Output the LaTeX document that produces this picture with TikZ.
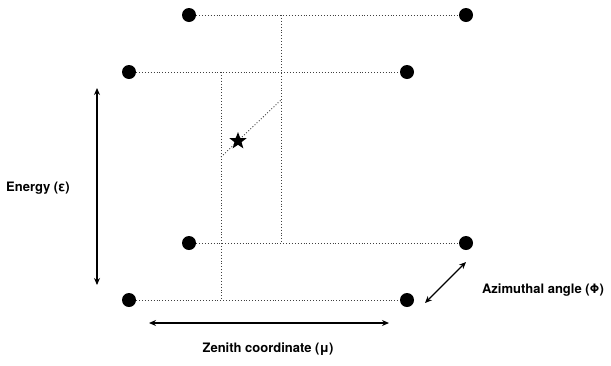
\documentclass[tikz,border=0pt]{standalone}
\usepackage{fontspec}
\setmainfont{TeX Gyre Heros}
\usetikzlibrary{arrows.meta, positioning, shapes.geometric}

\tikzset{
  gridpt/.style={circle,fill=black,inner sep=0pt,minimum size=14pt},
  gridline/.style={dotted,black!75,line width=0.9pt},
  axisarrow/.style={{Stealth[length=7pt,width=6pt]}-{Stealth[length=7pt,width=6pt]},line width=1.2pt},
  axislabel/.style={font=\bfseries\fontsize{13}{15}\selectfont}
}

\begin{document}
\begin{tikzpicture}[x=1pt,y=-1pt]
\useasboundingbox (0,0) rectangle (611,365);

% Corners of the bin: back layer and front layer.
\node[gridpt] (tbl) at (189,15) {};
\node[gridpt] (tbr) at (466,15) {};
\node[gridpt] (tfl) at (129,72) {};
\node[gridpt] (tfr) at (407,72) {};
\node[gridpt] (bbl) at (189,243) {};
\node[gridpt] (bbr) at (466,243) {};
\node[gridpt] (bfl) at (129,300) {};
\node[gridpt] (bfr) at (407,300) {};

\draw[gridline] (tbl) -- (tbr);
\draw[gridline] (tfl) -- (tfr);
\draw[gridline] (bbl) -- (bbr);
\draw[gridline] (bfl) -- (bfr);

% Walls through the middle of the bin.
\coordinate (backtop) at (281,15);
\coordinate (backbot) at (281,243);
\coordinate (fronttop) at (221,72);
\coordinate (frontbot) at (221,300);
\draw[gridline] (backtop) -- (backbot);
\draw[gridline] (fronttop) -- (frontbot);

\coordinate (diagfront) at (221,157);
\coordinate (diagback) at (281,100);
\draw[gridline] (diagfront) -- (diagback);
\node[star,star points=5,star point ratio=2.4,fill=black,inner sep=0pt,minimum size=18pt] (event) at (238,141) {};

% Axes.
\coordinate (etop) at (97,88);
\coordinate (ebot) at (97,285);
\draw[axisarrow] (etop) -- (ebot);
\node[axislabel] (energy) at (38,188) {Energy (ε)};

\coordinate (zleft) at (149,323);
\coordinate (zright) at (389,323);
\draw[axisarrow] (zleft) -- (zright);
\node[axislabel] (zenith) at (268,349) {Zenith coordinate (μ)};

\coordinate (afront) at (425,303);
\coordinate (aback) at (466,262);
\draw[axisarrow] (afront) -- (aback);
\node[axislabel] (azimuth) at (543,290) {Azimuthal angle (Φ)};
\end{tikzpicture}
\end{document}
